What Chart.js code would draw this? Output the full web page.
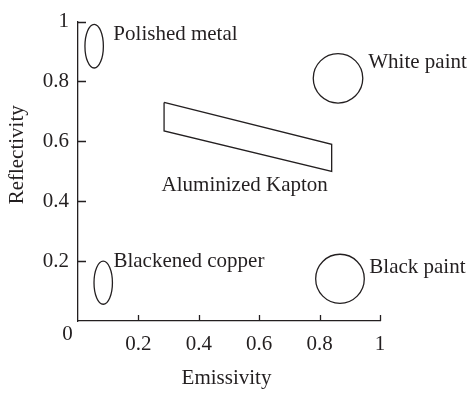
<!DOCTYPE html>
<html>
<head>
<meta charset="utf-8">
<script src="https://cdn.jsdelivr.net/npm/chart.js@4.4.1/dist/chart.umd.min.js"></script>
<style>
  html, body { margin: 0; padding: 0; background: #fff; }
  canvas { display: block; }
</style>
</head>
<body>
<canvas id="surfaceChart" width="468" height="393"></canvas>
<script>
// Surface finishes, each drawn as an ellipse spanning its ranges
const materials = ['Polished metal', 'Blackened copper', 'White paint', 'Black paint'];
const emissivityMin = [0.023, 0.053, 0.779, 0.787];
const emissivityMax = [0.084, 0.114, 0.943, 0.948];
const reflectivityMin = [0.845, 0.056, 0.728, 0.059];
const reflectivityMax = [0.991, 0.200, 0.893, 0.223];

// Aluminized Kapton band, closed outline
const kaptonLabel = 'Aluminized Kapton';
const kaptonEmissivity = [0.285, 0.84, 0.84, 0.285, 0.285];
const kaptonReflectivity = [0.73, 0.59, 0.50, 0.635, 0.73];

const axisTicks = [0.2, 0.4, 0.6, 0.8, 1];
const originLabel = '0';
const xTitle = 'Emissivity';
const yTitle = 'Reflectivity';

const ink = '#231f20';
const serif = '"Liberation Serif", "Times New Roman", serif';
const textFont = '21px ' + serif;

// label offsets: px from the ellipse's right edge, px from its centre line (baseline)
const labelShift = {
    'Polished metal': [10, -6],
    'Blackened copper': [1, -15.5],
    'White paint': [5.5, -10],
    'Black paint': [5, -5.5]
};

const outlines = {
    id: 'outlines',
    afterDatasetsDraw(chart) {
        const { ctx, scales: { x, y } } = chart;
        ctx.save();
        ctx.strokeStyle = ink;
        ctx.lineWidth = 1.3;
        ctx.fillStyle = ink;
        ctx.font = textFont;
        ctx.textAlign = 'left';
        ctx.textBaseline = 'alphabetic';
        materials.forEach((name, i) => {
            const x0 = x.getPixelForValue(emissivityMin[i]);
            const x1 = x.getPixelForValue(emissivityMax[i]);
            const y0 = y.getPixelForValue(reflectivityMax[i]);
            const y1 = y.getPixelForValue(reflectivityMin[i]);
            const cx = (x0 + x1) / 2;
            const cy = (y0 + y1) / 2;
            ctx.beginPath();
            ctx.ellipse(cx, cy, (x1 - x0) / 2, (y1 - y0) / 2, 0, 0, Math.PI * 2);
            ctx.stroke();
            const [dx, dy] = labelShift[name];
            ctx.fillText(name, x1 + dx, cy + dy);
        });
        // kapton caption sits under the band's lower-left corner
        const kx = x.getPixelForValue(kaptonEmissivity[3]);
        const ky = y.getPixelForValue(kaptonReflectivity[3]);
        ctx.fillText(kaptonLabel, kx - 2.5, ky + 60);
        ctx.restore();
    }
};

const axisDecor = {
    id: 'axisDecor',
    afterDraw(chart) {
        const { ctx, chartArea: a, scales: { x, y } } = chart;
        ctx.save();
        ctx.strokeStyle = ink;
        ctx.lineWidth = 1.3;
        // tick marks point into the plot
        ctx.beginPath();
        axisTicks.forEach(v => {
            const px = Math.round(x.getPixelForValue(v)) + 0.5;
            ctx.moveTo(px, a.bottom);
            ctx.lineTo(px, a.bottom - 6);
            const py = Math.round(y.getPixelForValue(v)) + 0.5;
            ctx.moveTo(a.left, py);
            ctx.lineTo(a.left + 8, py);
        });
        ctx.stroke();

        ctx.fillStyle = ink;
        ctx.font = textFont;
        ctx.textBaseline = 'alphabetic';
        ctx.textAlign = 'center';
        ctx.fillText(originLabel, a.left - 10.5, a.bottom + 19);
        ctx.fillText(xTitle, (a.left + a.right) / 2 - 2.5, a.bottom + 63);

        ctx.translate(22.5, (a.top + a.bottom) / 2 - 16.5);
        ctx.rotate(-Math.PI / 2);
        ctx.fillText(yTitle, 0, 0);
        ctx.restore();
    }
};

const tickFont = { family: serif, size: 21 };
const plainNumber = value => String(value);

new Chart(document.getElementById('surfaceChart'), {
    type: 'scatter',
    data: {
        datasets: [{
            label: kaptonLabel,
            data: kaptonEmissivity.map((e, i) => ({ x: e, y: kaptonReflectivity[i] })),
            showLine: true,
            fill: false,
            borderColor: ink,
            borderWidth: 1.3,
            pointRadius: 0,
            tension: 0
        }]
    },
    options: {
        responsive: false,
        animation: false,
        layout: { padding: { top: 20, right: 88, left: 0, bottom: 0 } },
        plugins: {
            legend: { display: false },
            tooltip: { enabled: false }
        },
        scales: {
            x: {
                type: 'linear',
                min: 0,
                max: 1,
                afterBuildTicks: scale => { scale.ticks = axisTicks.map(v => ({ value: v })); },
                afterFit: scale => { scale.height = 72; },
                grid: { display: false, drawTicks: false },
                border: { display: true, color: ink, width: 1.3 },
                ticks: { color: ink, font: tickFont, padding: 11, maxRotation: 0, callback: plainNumber }
            },
            y: {
                type: 'linear',
                min: 0,
                max: 1,
                afterBuildTicks: scale => { scale.ticks = axisTicks.map(v => ({ value: v })); },
                afterFit: scale => { scale.width = 78; },
                grid: { display: false, drawTicks: false },
                border: { display: true, color: ink, width: 1.3 },
                ticks: { color: ink, font: tickFont, padding: 9, callback: plainNumber }
            }
        }
    },
    plugins: [outlines, axisDecor]
});
</script>
</body>
</html>
